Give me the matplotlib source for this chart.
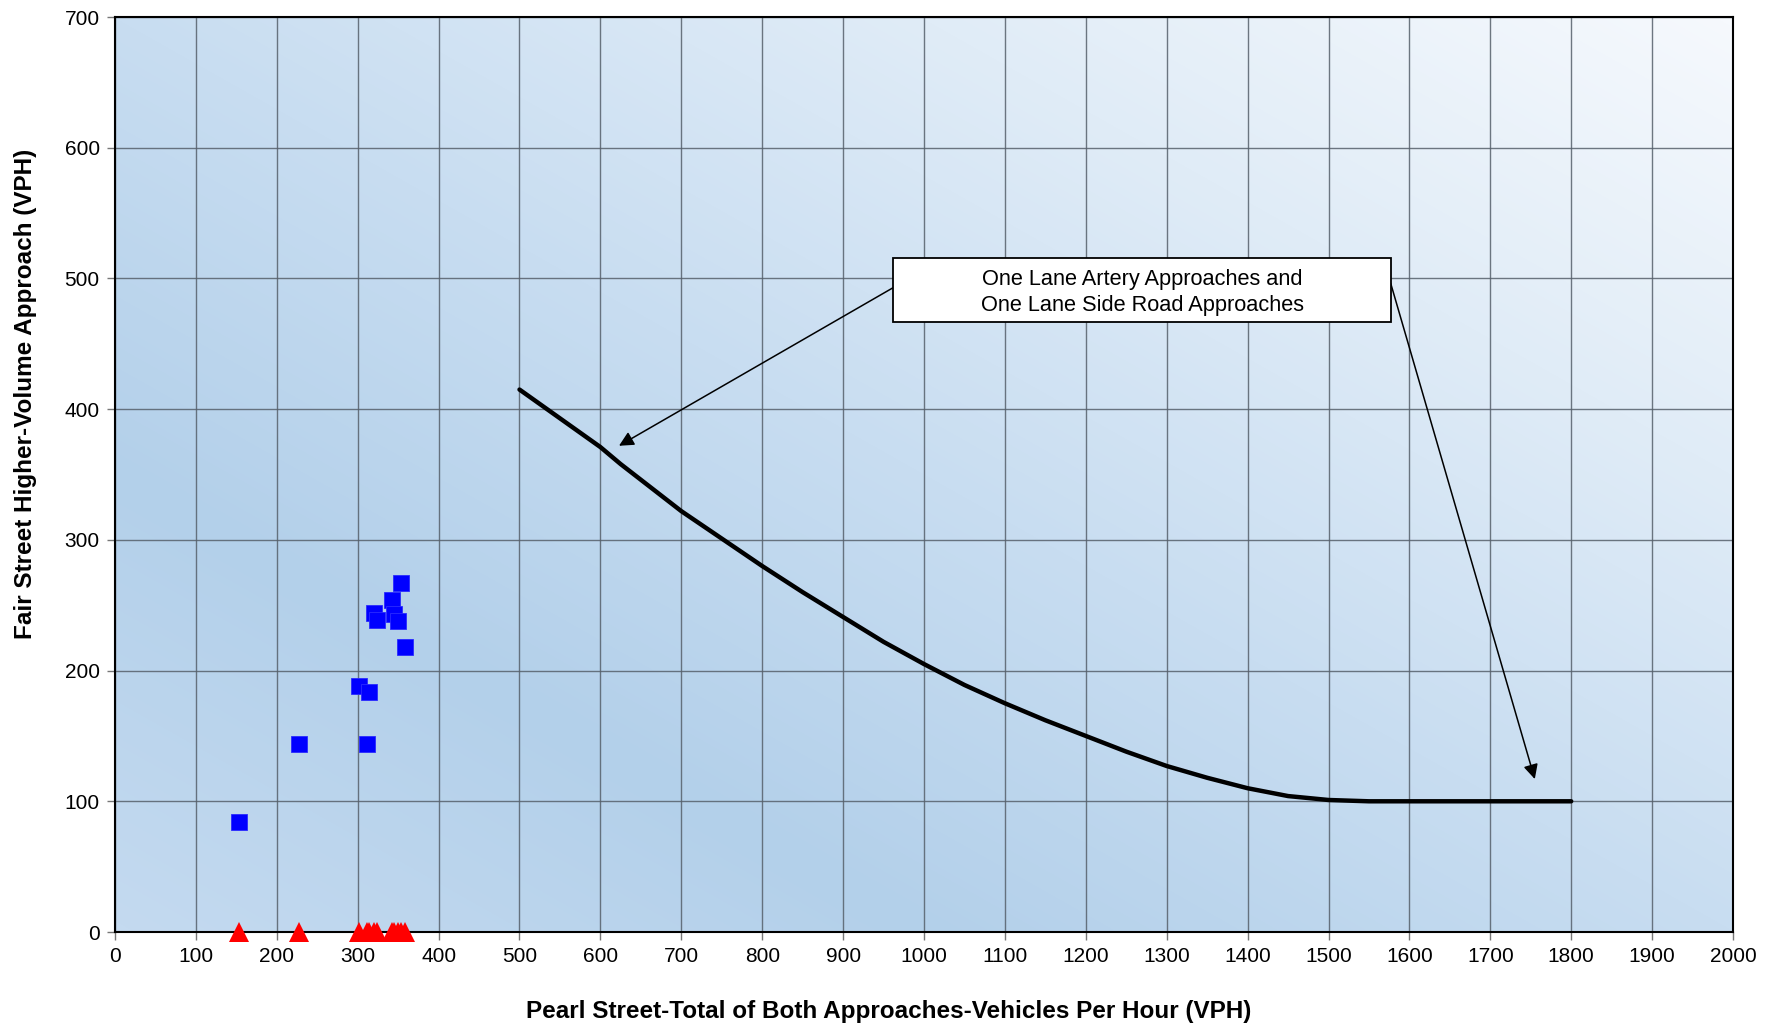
import numpy as np
import matplotlib
matplotlib.use("Agg")
import matplotlib.pyplot as plt
from matplotlib.colors import LinearSegmentedColormap
from matplotlib.patches import Rectangle

plt.rcParams['font.family'] = ['Liberation Sans', 'DejaVu Sans']

# Observed volumes (Pearl Street total vs Fair Street higher-volume approach)
pearl_vph = [153, 228, 302, 312, 314, 320, 324, 342, 345, 350, 354, 359]
fair_vph = [84, 144, 188, 144, 184, 244, 239, 254, 243, 238, 267, 218]
# Side-street volume of zero plotted along the axis
fair_zero = [0] * len(pearl_vph)

# Warrant curve: one lane artery approaches and one lane side road approaches
curve_x = [500, 550, 600, 625, 650, 700, 750, 800, 850, 900, 950, 1000, 1050,
           1100, 1150, 1200, 1250, 1300, 1350, 1400, 1450, 1500, 1550, 1600,
           1700, 1800]
curve_y = [415, 393, 371, 358, 346, 322, 301, 280, 260, 241, 222, 205, 189,
           175, 162, 150, 138, 127, 118, 110, 104, 101, 100, 100, 100, 100]

x_ticks = list(range(0, 2001, 100))
y_ticks = list(range(0, 701, 100))

fig = plt.figure(figsize=(17.8, 10.27), dpi=100)
ax = fig.add_axes([0.0646, 0.0925, 0.9090, 0.8909])

# Diagonal gradient fill of the plot area
ny, nx = 200, 300
xx, yy = np.meshgrid(np.linspace(0, 1, nx), np.linspace(0, 1, ny))
u = (xx + yy) / 2
cmap = LinearSegmentedColormap.from_list(
    "bg", [(0.0, "#C4DAF0"), (0.25, "#B3D0EA"), (0.5, "#C8DDF1"),
           (0.75, "#E0ECF7"), (1.0, "#F6F9FD")])
ax.imshow(u, cmap=cmap, extent=[0, 1, 0, 1], transform=ax.transAxes,
          origin="lower", aspect="auto", zorder=0, interpolation="bilinear")

ax.set_xlim(0, 2000)
ax.set_ylim(0, 700)
ax.set_xticks(x_ticks)
ax.set_yticks(y_ticks)
ax.grid(True, color="#56606B", linewidth=1.0, alpha=0.85, zorder=1)
ax.set_axisbelow(False)

for s in ax.spines.values():
    s.set_color("black")
    s.set_linewidth(1.5)
    s.set_zorder(3)

ax.tick_params(axis="both", direction="out", length=6, width=1,
               color="#777777", labelsize=15, pad=5)

ax.plot(curve_x, curve_y, color="black", linewidth=3.2,
        solid_capstyle="round", solid_joinstyle="round", zorder=4)

ax.plot(pearl_vph, fair_vph, linestyle="none", marker="s", markersize=11.5,
        color="#0000FF", markeredgecolor="#2A2AFF", markeredgewidth=0.6,
        zorder=5)
ax.plot(pearl_vph, fair_zero, linestyle="none", marker="^", markersize=14.5,
        color="#FF0000", markeredgewidth=0, zorder=5, clip_on=False)

# Label box with pointer arrows
box_x0, box_x1 = 962, 1577
box_y0, box_y1 = 467, 516
ax.add_patch(Rectangle((box_x0, box_y0), box_x1 - box_x0, box_y1 - box_y0,
                       facecolor="white", edgecolor="black", linewidth=1.3,
                       zorder=6))
ax.text((box_x0 + box_x1) / 2, (box_y0 + box_y1) / 2 - 2,
        "One Lane Artery Approaches and\nOne Lane Side Road Approaches",
        ha="center", va="center", fontsize=15.7, linespacing=1.3, zorder=7)

arrow_kw = dict(arrowstyle="-|>", color="black", lw=1.1, mutation_scale=22,
                shrinkA=0, shrinkB=0)
ax.annotate("", xy=(623, 372), xytext=(box_x0, 493),
            arrowprops=arrow_kw, zorder=5)
ax.annotate("", xy=(1755, 117), xytext=(box_x1, 496),
            arrowprops=arrow_kw, zorder=5)

ax.set_xlabel("Pearl Street-Total of Both Approaches-Vehicles Per Hour (VPH)",
              fontsize=17.5, fontweight="bold")
ax.set_ylabel("Fair Street Higher-Volume Approach (VPH)",
              fontsize=17.5, fontweight="bold")
ax.xaxis.set_label_coords(0.478, -0.074)
ax.yaxis.set_label_coords(-0.0485, 0.588)

fig.savefig("out.png", dpi=100)
